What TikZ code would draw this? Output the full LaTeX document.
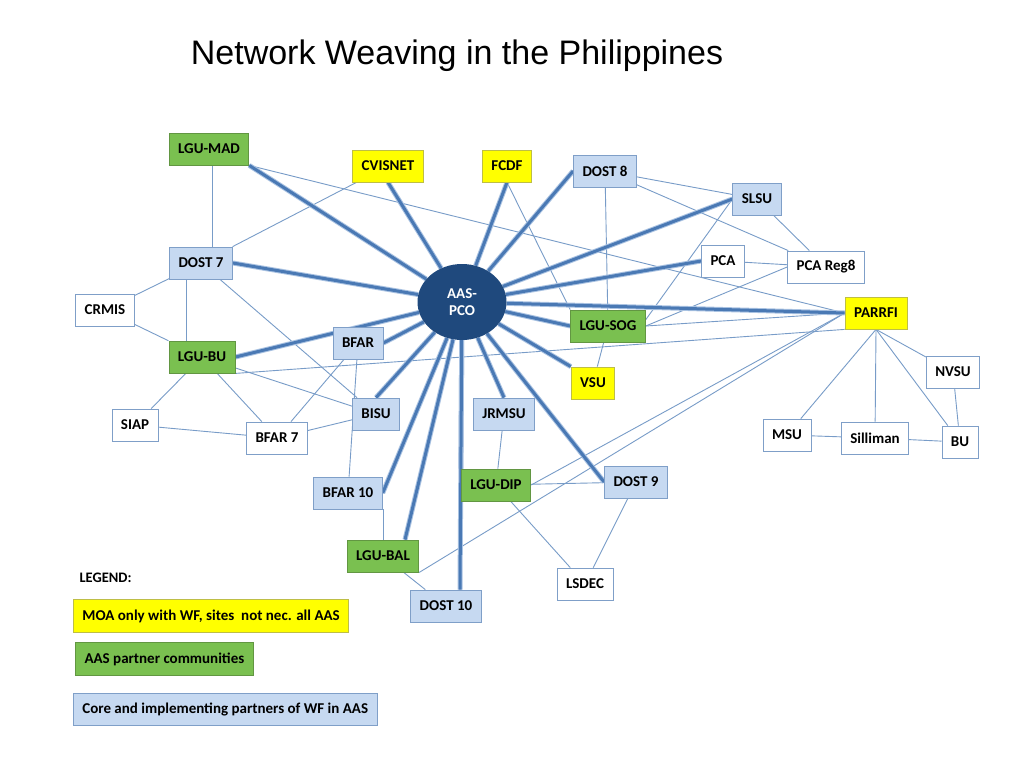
\documentclass[tikz,border=0pt]{standalone}
\usepackage{fontspec}
\setmainfont{Carlito}
\newfontfamily\titlefont{Liberation Sans}
\usetikzlibrary{shapes, positioning, backgrounds}

\definecolor{wfgreen}{RGB}{122,192,80}
\definecolor{wfgreenline}{RGB}{98,150,66}
\definecolor{wfyellow}{RGB}{255,255,0}
\definecolor{wfyellowline}{RGB}{190,190,70}
\definecolor{wfblue}{RGB}{198,217,241}
\definecolor{wfblueline}{RGB}{127,159,200}
\definecolor{hubblue}{RGB}{31,73,125}
\definecolor{spokeblue}{RGB}{74,121,180}
\definecolor{spokehalo}{RGB}{170,195,226}
\definecolor{linkblue}{RGB}{120,156,200}

\tikzset{
  box/.style={draw=wfblueline, line width=0.8pt, minimum height=32pt, inner xsep=9pt,
    font=\bfseries\fontsize{15}{15}\selectfont},
  core/.style={box, fill=wfblue},
  comm/.style={box, fill=wfgreen, draw=wfgreenline},
  moa/.style={box, fill=wfyellow, draw=wfyellowline},
  other/.style={box, fill=white},
  hub/.style={ellipse, fill=hubblue, minimum width=89pt, minimum height=76pt,
    text=white, align=center, font=\bfseries\fontsize{15}{17}\selectfont},
  spoke/.style={line width=3pt, draw=spokeblue, preaction={draw=spokehalo, line width=5pt}},
  link/.style={line width=0.9pt, draw=linkblue},
  key/.style={box, anchor=west, inner xsep=7pt, font=\bfseries\fontsize{14}{14}\selectfont}
}

\begin{document}
\begin{tikzpicture}[x=1pt, y=-1pt]
  \useasboundingbox (0,0) rectangle (1024,768);

  \node[font=\titlefont\fontsize{34}{34}\selectfont] (title) at (457,56) {Network Weaving in the Philippines};

  % hub
  \node[hub] (aas_pco) at (462,302) {AAS-\\PCO};

  % left side
  \node[comm]  (lgu_mad)  at (209,149) {LGU-MAD};
  \node[core]  (dost_7)   at (201,263) {DOST 7};
  \node[other] (crmis)    at (105,310) {CRMIS};
  \node[comm]  (lgu_bu)   at (202,357) {LGU-BU};
  \node[other] (siap)     at (135,425) {SIAP};
  \node[other] (bfar_7)   at (277,438) {BFAR 7};
  \node[core]  (bfar)     at (358,343) {BFAR};
  \node[core]  (bisu)     at (376,414) {BISU};
  \node[core]  (bfar_10)  at (348,493) {BFAR 10};
  \node[comm]  (lgu_bal)  at (383,556) {LGU-BAL};
  \node[core]  (dost_10)  at (446,606) {DOST 10};

  % top and middle
  \node[moa]   (cvisnet)  at (388,166) {CVISNET};
  \node[moa]   (fcdf)     at (507,166) {FCDF};
  \node[core]  (dost_8)   at (605,171) {DOST 8};
  \node[comm]  (lgu_sog)  at (608,326) {LGU-SOG};
  \node[moa]   (vsu)      at (593,383) {VSU};
  \node[core]  (jrmsu)    at (504,414) {JRMSU};
  \node[comm]  (lgu_dip)  at (496,485) {LGU-DIP};
  \node[core]  (dost_9)   at (636,482) {DOST 9};
  \node[other] (lsdec)    at (585,584) {LSDEC};

  % right side
  \node[core]  (slsu)     at (757,199) {SLSU};
  \node[other] (pca)      at (723,261) {PCA};
  \node[other] (pca_reg8) at (826,267) {PCA Reg8};
  \node[moa]   (parrfi)   at (876,313) {PARRFI};
  \node[other] (nvsu)     at (953,372) {NVSU};
  \node[other] (msu)      at (787,435) {MSU};
  \node[other] (silliman) at (875,438) {Silliman};
  \node[other] (bu)       at (960,442) {BU};

  % legend
  \node[anchor=west, font=\bfseries\fontsize{14.5}{14.5}\selectfont] (legend) at (76,578) {LEGEND:};
  \node[key, moa, minimum width=272pt, minimum height=33pt] (key_moa) at (73,616) {MOA only with WF, sites~ not nec. all AAS};
  \node[key, comm, minimum width=178pt, minimum height=33pt] (key_comm) at (75,659) {AAS partner communities};
  \node[key, core, minimum width=244pt, minimum height=32pt] (key_core) at (73,709) {Core and implementing partners of WF in AAS};

  \begin{scope}[on background layer]
    \fill[white] (0,0) rectangle (1024,768);
    \path[link]
      (lgu_mad.south -| 212,0) edge (212,0 |- dost_7.north)
      (lgu_mad.south east) edge (parrfi.west)
      (dost_7) edge (cvisnet)
               edge (crmis)
               edge (bisu)
      (dost_7.south -| 186,0) edge (186,0 |- lgu_bu.north)
      (crmis) edge (lgu_bu)
      (lgu_bu) edge (siap)
               edge (bfar_7)
               edge (bisu)
      (lgu_bu.south east) edge (parrfi.south west)
      (siap) edge (bfar_7)
      (bfar_7) edge (bfar)
               edge (bisu)
      (bfar) edge (bfar_10)
      (bfar_10.south -| lgu_bal) edge (lgu_bal.north)
      (lgu_bal) edge (dost_10)
      (lgu_bal.south east) edge (parrfi.west)
      (lgu_dip.east) edge (parrfi.west)
      (lgu_dip) edge (dost_9)
                edge (lsdec)
      (dost_9) edge (lsdec)
      (jrmsu) edge (lgu_dip)
      (fcdf.south) edge (lgu_sog.north west)
      (dost_8) edge (lgu_sog)
               edge (slsu)
               edge (pca_reg8)
      (slsu) edge (pca_reg8)
      (slsu.west) edge ([yshift=-10pt]lgu_sog.north east)
      (pca) edge (pca_reg8)
      (pca_reg8.west) edge (lgu_sog.east)
      (lgu_sog.east) edge (parrfi.west)
      (lgu_sog) edge (vsu)
      (parrfi.south) edge (msu)
                     edge (silliman)
                     edge (bu)
                     edge (nvsu)
      (msu) edge (silliman)
      (silliman) edge (bu)
      (nvsu) edge (bu);

    % spokes from the hub
    \foreach \n/\a in {lgu_mad/south east, cvisnet/south, fcdf/south, dost_8/west, slsu/west,
                       pca/west, parrfi/west, lgu_sog/west, vsu/north west, dost_9/west,
                       jrmsu/north, lgu_dip/north west, bisu/north, bfar/east, lgu_bu/east,
                       dost_7/east, bfar_10/east}
      \draw[spoke] (aas_pco) -- (\n.\a);
    \draw[spoke] (aas_pco) -- ([xshift=14pt]dost_10.north);
    \draw[spoke] (aas_pco) -- ([xshift=22pt]lgu_bal.north);
  \end{scope}
\end{tikzpicture}
\end{document}
